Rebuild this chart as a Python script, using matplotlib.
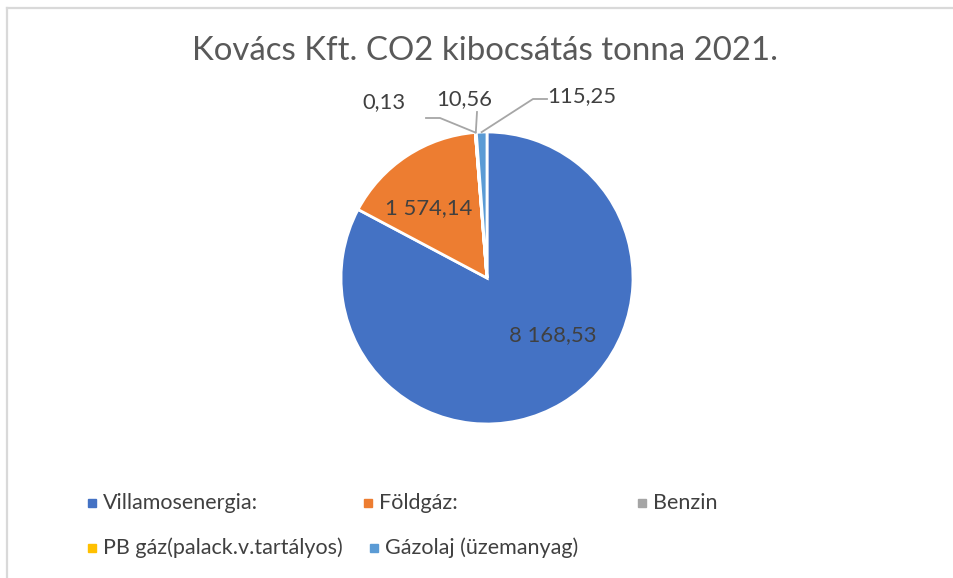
"""Kovács Kft. CO2 kibocsátás 2021 - kördiagram."""
import matplotlib

matplotlib.use("Agg")
import matplotlib.pyplot as plt
from matplotlib.patches import Rectangle
from matplotlib.lines import Line2D
import numpy as np

W, H = 954, 578

categories = ["Villamosenergia:", "Földgáz:", "Benzin", "PB gáz(palack.v.tartályos)", "Gázolaj (üzemanyag)"]
values = [8168.53, 1574.14, 0.13, 10.56, 115.25]
value_labels = ["8 168,53", "1 574,14", "0,13", "10,56", "115,25"]
colors = ["#4472C4", "#ED7D31", "#A5A5A5", "#FFC000", "#5B9BD5"]

FONT = ["Lato", "DejaVu Sans"]
TEXT_COLOR = "#404040"

CX, CY, R = 487, 278, 146  # pie centre / radius in pixels


def px(x, y):
    """pixel (from top-left) -> pie data coords"""
    return (x - CX) / R, (CY - y) / R


fig = plt.figure(figsize=(W / 100, H / 100), dpi=100)
plt.rcParams["font.family"] = FONT

# chart area border (only left and top visible)
fig.add_artist(Line2D([7.5 / W, 7.5 / W], [0, 1 - 7.5 / H], color="#d9d9d9", lw=1.6))
fig.add_artist(Line2D([7.5 / W, 1], [1 - 7.5 / H, 1 - 7.5 / H], color="#d9d9d9", lw=1.6))

ax = fig.add_axes([(CX - R) / W, (H - CY - R) / H, 2 * R / W, 2 * R / H])
wedges, _ = ax.pie(values, colors=colors, startangle=90, counterclock=False, radius=1,
                   wedgeprops=dict(edgecolor="white", linewidth=2))
ax.set_xlim(-1, 1)
ax.set_ylim(-1, 1)
ax.set_aspect("equal")
ax.axis("off")

# inside labels
for i, (x, y) in zip([0, 1], [(553, 335), (429, 208)]):
    ax.text(*px(x, y), value_labels[i], ha="center", va="center", fontsize=15.8, color=TEXT_COLOR)

# outside labels with leader lines
outside = {2: ((384, 102), [(426, 118), (440, 118)]),
           3: ((464, 99), [(477, 112)]),
           4: ((582, 96), [(547, 99), (533, 99)])}
for i, ((tx, ty), pts) in outside.items():
    ax.text(*px(tx, ty), value_labels[i], ha="center", va="center", fontsize=15.8, color=TEXT_COLOR)
    w = wedges[i]
    mid = np.deg2rad((w.theta1 + w.theta2) / 2)
    end = (np.cos(mid) * 1.0, np.sin(mid) * 1.0)
    xs = [px(*p)[0] for p in pts] + [end[0]]
    ys = [px(*p)[1] for p in pts] + [end[1]]
    ax.add_line(Line2D(xs, ys, color="#A6A6A6", lw=1.3, clip_on=False))

fig.text(485 / W, 1 - 51 / H, "Kovács Kft. CO2 kibocsátás tonna 2021.", ha="center", va="center",
         fontsize=23.8, color="#595959")

# legend
legend_pos = [(88, 503), (364, 503), (638, 503), (88, 548), (370, 548)]
for name, col, (lx, ly) in zip(categories, colors, legend_pos):
    s = 8
    fig.add_artist(Rectangle((lx / W, 1 - (ly + s / 2) / H), s / W, s / H, color=col))
    fig.text((lx + 15) / W, 1 - ly / H, name, ha="left", va="center", fontsize=15.5, color=TEXT_COLOR)

fig.savefig("out.png", dpi=100)
